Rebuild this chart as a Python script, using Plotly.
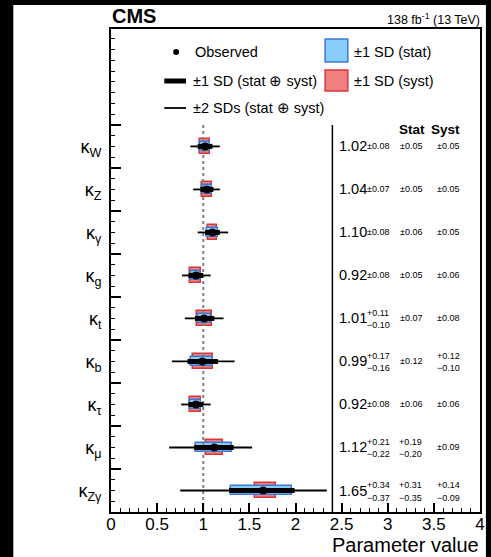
import plotly.graph_objects as go

# ---------------- data ----------------
params = ["κ<sub>W</sub>", "κ<sub>Z</sub>", "κ<sub>γ</sub>", "κ<sub>g</sub>", "κ<sub>t</sub>",
          "κ<sub>b</sub>", "κ<sub>τ</sub>", "κ<sub>μ</sub>", "κ<sub>Zγ</sub>"]
observed = [1.02, 1.04, 1.10, 0.92, 1.01, 0.99, 0.92, 1.12, 1.65]
tot_up = [0.08, 0.07, 0.08, 0.08, 0.11, 0.17, 0.08, 0.21, 0.34]
tot_dn = [0.08, 0.07, 0.08, 0.08, 0.10, 0.16, 0.08, 0.22, 0.37]
stat_up = [0.05, 0.05, 0.06, 0.05, 0.07, 0.12, 0.06, 0.19, 0.31]
stat_dn = [0.05, 0.05, 0.06, 0.05, 0.07, 0.12, 0.06, 0.20, 0.35]
syst_up = [0.05, 0.05, 0.05, 0.06, 0.08, 0.12, 0.06, 0.09, 0.14]
syst_dn = [0.05, 0.05, 0.05, 0.06, 0.08, 0.10, 0.06, 0.09, 0.09]
two_sd_up = [0.16, 0.14, 0.17, 0.16, 0.21, 0.35, 0.16, 0.41, 0.69]
two_sd_dn = [0.16, 0.15, 0.16, 0.15, 0.21, 0.33, 0.16, 0.49, 0.90]
sm_value = 1.0
x_ticks = [0, 0.5, 1, 1.5, 2, 2.5, 3, 3.5, 4]
x_tick_text = ["0", "0.5", "1", "1.5", "2", "2.5", "3", "3.5", "4"]

n = len(params)
rows = [n - 1 - i + 0.5 for i in range(n)]
Y_TOP = 11.23
SEP_X = 2.4

# pixel helpers (plot area: x 111..485, y 29..512)
L, R, T, B = 111, 485, 29, 512
def px(x):
    return (x - L) / (R - L)
def py(y):
    return (B - y) / (B - T)

FONT = "Liberation Sans, Arial, Helvetica, sans-serif"
BLUE_FILL, BLUE_LINE = "#87cefa", "#3d78d8"
RED_FILL, RED_LINE = "#f08080", "#d8363a"

fig = go.Figure()

fig.add_trace(go.Bar(
    y=rows, x=[u + d for u, d in zip(syst_up, syst_dn)],
    base=[o - d for o, d in zip(observed, syst_dn)],
    orientation="h", width=0.33,
    marker=dict(color=RED_FILL, line=dict(color=RED_LINE, width=1.5)),
    showlegend=False, hoverinfo="skip"))
fig.add_trace(go.Bar(
    y=rows, x=[u + d for u, d in zip(stat_up, stat_dn)],
    base=[o - d for o, d in zip(observed, stat_dn)],
    orientation="h", width=0.21,
    marker=dict(color=BLUE_FILL, line=dict(color=BLUE_LINE, width=1.5)),
    showlegend=False, hoverinfo="skip"))

fig.add_trace(go.Scatter(x=[sm_value, sm_value], y=[0, 9], mode="lines",
                         line=dict(color="#808080", width=2, dash="dot"),
                         showlegend=False, hoverinfo="skip"))

fig.add_trace(go.Scatter(
    x=observed, y=rows, mode="markers",
    marker=dict(size=1, color="rgba(0,0,0,0)"),
    error_x=dict(type="data", symmetric=False, array=two_sd_up, arrayminus=two_sd_dn,
                 color="black", thickness=1.8, width=0),
    showlegend=False, hoverinfo="skip"))
fig.add_trace(go.Scatter(
    x=observed, y=rows, mode="markers",
    marker=dict(size=1, color="rgba(0,0,0,0)"),
    error_x=dict(type="data", symmetric=False, array=tot_up, arrayminus=tot_dn,
                 color="black", thickness=5, width=0),
    showlegend=False, hoverinfo="skip"))
fig.add_trace(go.Scatter(
    x=observed, y=rows, mode="markers",
    marker=dict(size=8, color="black"),
    showlegend=False, hoverinfo="skip"))

shapes = []
ann = []

# white page area (the black paper shows as crop borders at top and left)
shapes.append(dict(type="rect", xref="paper", yref="paper", x0=px(12), x1=px(491),
                   y0=py(557), y1=py(5), fillcolor="white", line=dict(width=0), layer="below"))

shapes.append(dict(type="line", xref="x", yref="y", x0=SEP_X, x1=SEP_X, y0=0, y1=9,
                   line=dict(color="black", width=1.5)))

# ---- legend (manual) ----
shapes.append(dict(type="line", xref="paper", yref="paper", x0=px(165), x1=px(187),
                   y0=py(81), y1=py(81), line=dict(color="black", width=5)))
shapes.append(dict(type="line", xref="paper", yref="paper", x0=px(165), x1=px(187),
                   y0=py(108), y1=py(108), line=dict(color="black", width=1.8)))
shapes.append(dict(type="circle", xref="paper", yref="paper", x0=px(174), x1=px(180),
                   y0=py(55), y1=py(49), fillcolor="black", line=dict(color="black", width=0)))
shapes.append(dict(type="rect", xref="paper", yref="paper", x0=px(328), x1=px(351),
                   y0=py(62), y1=py(39), fillcolor=BLUE_FILL, line=dict(color=BLUE_LINE, width=1.5)))
shapes.append(dict(type="rect", xref="paper", yref="paper", x0=px(328), x1=px(351),
                   y0=py(91), y1=py(70), fillcolor=RED_FILL, line=dict(color=RED_LINE, width=1.5)))
leg_items = [(194, 52, "Observed"), (192, 81, "±1 SD (stat ⊕ syst)"),
             (192, 108, "±2 SDs (stat ⊕ syst)"), (355, 52, "±1 SD (stat)"),
             (355, 81, "±1 SD (syst)")]
for x0, y0, t in leg_items:
    ann.append(dict(text=t, xref="paper", yref="paper", x=px(x0), y=py(y0),
                    xanchor="left", yanchor="middle", showarrow=False,
                    font=dict(family=FONT, size=14.5, color="black")))

ann.append(dict(text="<b>CMS</b>", xref="paper", yref="paper", x=px(110), y=py(16),
                xanchor="left", yanchor="middle", showarrow=False,
                font=dict(family=FONT, size=20, color="black")))
ann.append(dict(text="138 fb<sup>-1</sup> (13 TeV)", xref="paper", yref="paper", x=px(487), y=py(19),
                xanchor="right", yanchor="middle", showarrow=False,
                font=dict(family=FONT, size=12.5, color="black")))
ann.append(dict(text="<b>Stat</b>", xref="paper", yref="paper", x=px(416), y=py(129),
                xanchor="center", yanchor="middle", showarrow=False,
                font=dict(family=FONT, size=13.5, color="black")))
ann.append(dict(text="<b>Syst</b>", xref="paper", yref="paper", x=px(450), y=py(129),
                xanchor="center", yanchor="middle", showarrow=False,
                font=dict(family=FONT, size=13.5, color="black")))
ann.append(dict(text="Parameter value", xref="paper", yref="paper", x=px(486), y=py(545),
                xanchor="right", yanchor="middle", showarrow=False,
                font=dict(family=FONT, size=20, color="black")))

MAIN = 14.5
SMALL = 9
def fmt(v):
    return f"{v:.2f}"

def err_text(xc, yrow, up, dn, anchor):
    if abs(up - dn) < 1e-9:
        ann.append(dict(text="±" + fmt(up), xref="paper", yref="y", x=px(xc), y=yrow,
                        xanchor=anchor, yanchor="middle", showarrow=False,
                        font=dict(family=FONT, size=SMALL, color="black")))
    else:
        ann.append(dict(text="+" + fmt(up), xref="paper", yref="y", x=px(xc), y=yrow + 5.5 / 43,
                        xanchor=anchor, yanchor="middle", showarrow=False,
                        font=dict(family=FONT, size=SMALL, color="black")))
        ann.append(dict(text="−" + fmt(dn), xref="paper", yref="y", x=px(xc), y=yrow - 7 / 43,
                        xanchor=anchor, yanchor="middle", showarrow=False,
                        font=dict(family=FONT, size=SMALL, color="black")))

for i in range(n):
    yr = rows[i]
    ann.append(dict(text=fmt(observed[i]), xref="paper", yref="y", x=px(340), y=yr,
                    xanchor="left", yanchor="middle", showarrow=False,
                    font=dict(family=FONT, size=MAIN, color="black")))
    err_text(368, yr, tot_up[i], tot_dn[i], "left")
    err_text(415, yr, stat_up[i], stat_dn[i], "center")
    err_text(453, yr, syst_up[i], syst_dn[i], "center")

fig.update_layout(
    width=491, height=557,
    margin=dict(l=L, r=491 - R, t=T, b=557 - B),
    paper_bgcolor="black", plot_bgcolor="white",
    barmode="overlay", bargap=0,
    shapes=shapes, annotations=ann, showlegend=False,
    font=dict(family=FONT, color="black"),
    xaxis=dict(range=[0, 4], tickvals=x_ticks, ticktext=x_tick_text,
               ticks="inside", ticklen=9, tickwidth=1.5, tickcolor="black",
               minor=dict(dtick=0.1, ticks="inside", ticklen=4, tickwidth=1.2, tickcolor="black"),
               showline=True, linecolor="black", linewidth=2, mirror=True,
               showgrid=False, zeroline=False, tickfont=dict(family=FONT, size=17, color="black"),
               ticklabelstandoff=-4),
    yaxis=dict(range=[0, Y_TOP], tickvals=rows, ticktext=params, ticks="",
               showline=True, linecolor="black", linewidth=2, mirror=True,
               showgrid=False, zeroline=False, tickfont=dict(family=FONT, size=18, color="black"),
               ticklabelstandoff=4),
    yaxis2=dict(range=[0, Y_TOP], overlaying="y", side="left", anchor="x",
                tickvals=list(range(0, 10)), showticklabels=False,
                ticks="inside", ticklen=10, tickwidth=1.5, tickcolor="black",
                minor=dict(dtick=0.25, ticks="inside", ticklen=4, tickwidth=1.2, tickcolor="black"),
                showgrid=False, zeroline=False, showline=False),
)
fig.add_trace(go.Scatter(x=[None], y=[None], yaxis="y2", showlegend=False, hoverinfo="skip"))

fig.write_html("out.html")
